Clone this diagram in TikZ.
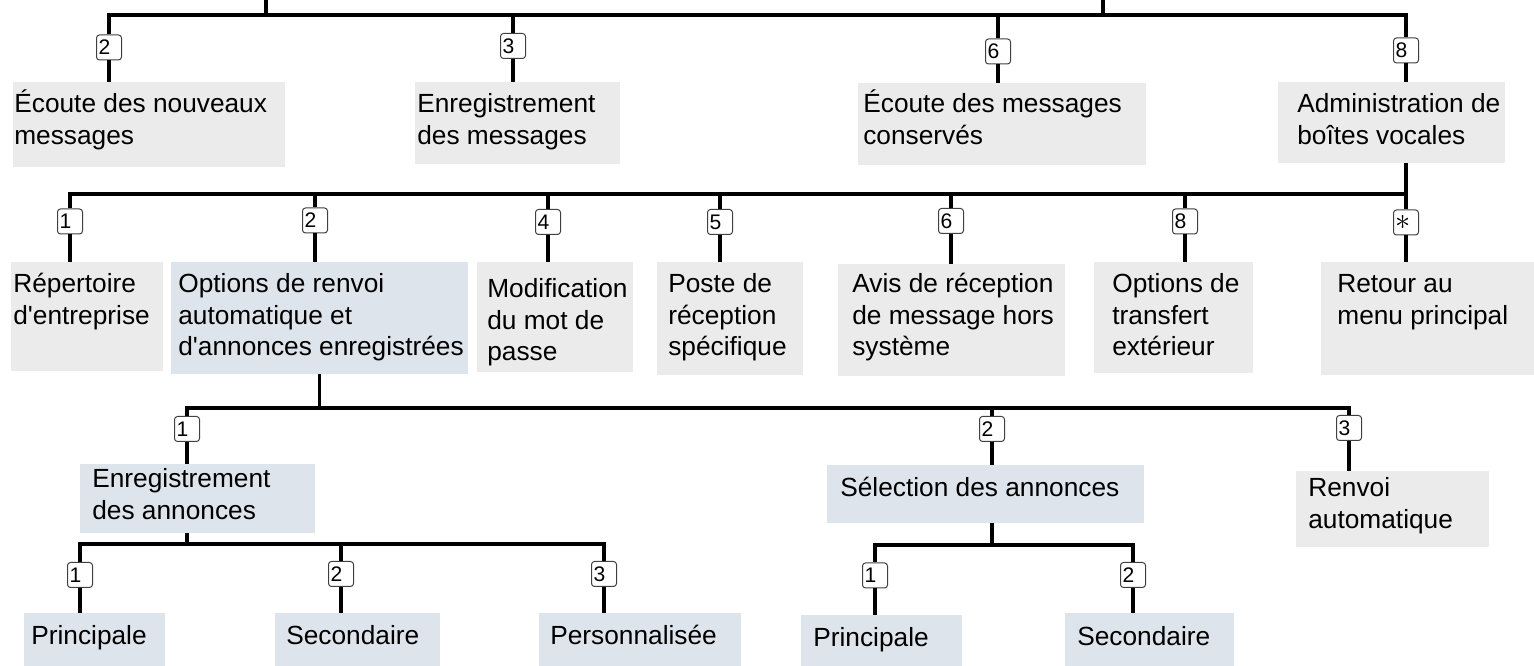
\documentclass[tikz,border=0pt]{standalone}
\usepackage{fontspec}
\setmainfont{Liberation Sans}
\definecolor{menugray}{RGB}{235,235,235}
\definecolor{menublue}{RGB}{222,228,235}
\newcommand{\menufont}{\fontsize{14.95pt}{17.93pt}\selectfont}
\newcommand{\keyfont}{\fontsize{12pt}{12pt}\selectfont}
\begin{document}
\begin{tikzpicture}[
    wire/.style={line width=0.065cm},
    keycap/.style={draw=black!75, line width=0.02cm, fill=white, rounded corners=0.06cm,
      minimum width=0.5cm, minimum height=0.5cm, inner xsep=0.04cm, inner ysep=0pt,
      text width=0.42cm, align=left, font=\keyfont},
    graybox/.style={fill=menugray, inner sep=0pt},
    bluebox/.style={fill=menublue, inner sep=0pt},
    lbl/.style={anchor=base west, inner sep=0pt, align=left, font=\menufont}
  ]
  \useasboundingbox (0,0) rectangle (30.68,13.32);

  % Drawing top level
  \coordinate (in1) at (5.32,13.32);
  \coordinate (in2) at (22.06,13.32);
  \coordinate (bar1) at (0,13.02);
  \node[graybox, minimum width=5.44cm, minimum height=1.70cm] (b1) at (2.98,10.83) {};
  \node[graybox, minimum width=4.10cm, minimum height=1.64cm] (b2) at (10.35,10.86) {};
  \node[graybox, minimum width=5.76cm, minimum height=1.64cm] (b3) at (20.04,10.84) {};
  \node[graybox, minimum width=4.54cm, minimum height=1.62cm] (b4) at (27.83,10.87) {};
  \node[lbl] (b1t) at (0.28,10.43) {Écoute des nouveaux\\messages};
  \node[lbl] (b2t) at (8.34,10.43) {Enregistrement\\des messages};
  \node[lbl] (b3t) at (17.26,10.43) {Écoute des messages\\conservés};
  \node[lbl] (b4t) at (25.94,10.43) {Administration de\\boîtes vocales};
  \node[keycap] (k2) at (2.18,12.37) {2};
  \node[keycap] (k3) at (10.26,12.40) {3};
  \node[keycap] (k6) at (19.96,12.29) {6};
  \node[keycap] (k8) at (28.12,12.31) {8};
  \draw[wire] (in1) -- (in1 |- bar1);
  \draw[wire] (in2) -- (in2 |- bar1);
  \draw[wire] (k2.north) |- (k8.north |- bar1) -- (k8.north);
  \foreach \k in {k3,k6}
    \draw[wire] (\k.north) -- (\k.north |- bar1);
  \foreach \k/\b in {k2/b1,k3/b2,k6/b3,k8/b4}
    \draw[wire] (\k.south) -- (\k.south |- \b.north);

  % Drawing mailbox administration level
  \coordinate (bar2) at (0,9.44);
  \node[graybox, minimum width=3.04cm, minimum height=2.18cm] (c1) at (1.74,6.99) {};
  \node[bluebox, minimum width=5.94cm, minimum height=2.24cm] (c2) at (6.39,6.96) {};
  \node[graybox, minimum width=3.12cm, minimum height=2.20cm] (c4) at (11.10,6.98) {};
  \node[graybox, minimum width=2.92cm, minimum height=2.26cm] (c5) at (14.60,6.95) {};
  \node[graybox, minimum width=4.54cm, minimum height=2.24cm] (c6) at (19.03,6.92) {};
  \node[graybox, minimum width=3.18cm, minimum height=2.22cm] (c8) at (23.47,6.97) {};
  \node[graybox, minimum width=4.26cm, minimum height=2.26cm] (cst) at (28.55,6.95) {};
  \node[lbl] (c1t) at (0.26,6.83) {Répertoire\\d\textquotesingle{}entreprise};
  \node[lbl] (c2t) at (3.56,6.20) {Options de renvoi\\automatique et\\d\textquotesingle{}annonces enregistrées};
  \node[lbl] (c4t) at (9.74,6.10) {Modification\\du mot de\\passe};
  \node[lbl] (c5t) at (13.36,6.20) {Poste de\\réception\\spécifique};
  \node[lbl] (c6t) at (17.04,6.20) {Avis de réception\\de message hors\\système};
  \node[lbl] (c8t) at (22.24,6.20) {Options de\\transfert\\extérieur};
  \node[lbl] (cstt) at (26.74,6.83) {Retour au\\menu principal};
  \node[keycap] (l1) at (1.40,8.89) {1};
  \node[keycap] (l2) at (6.30,8.91) {2};
  \node[keycap] (l4) at (10.96,8.88) {4};
  \node[keycap] (l5) at (14.40,8.88) {5};
  \node[keycap] (l6) at (19.02,8.90) {6};
  \node[keycap] (l8) at (23.70,8.89) {8};
  \node[keycap] (lst) at (28.12,8.87) {\fontsize{17pt}{17pt}\selectfont$\ast$};
  \draw[wire] (k8.south |- b4.south) -- (lst.north);
  \draw[wire] (l1.north) |- (lst.north |- bar2);
  \foreach \k in {l2,l4,l5,l6,l8}
    \draw[wire] (\k.north) -- (\k.north |- bar2);
  \foreach \k/\b in {l1/c1,l2/c2,l4/c4,l5/c5,l6/c6,l8/c8,lst/cst}
    \draw[wire] (\k.south) -- (\k.south |- \b.north);

  % Drawing forwarding and greetings level
  \coordinate (bar3) at (0,5.16);
  \node[bluebox, minimum width=4.70cm, minimum height=1.38cm] (d1) at (3.95,3.35) {};
  \node[bluebox, minimum width=6.34cm, minimum height=1.16cm] (d2) at (19.71,3.44) {};
  \node[graybox, minimum width=3.86cm, minimum height=1.52cm] (d3) at (27.85,3.14) {};
  \node[lbl] (d1t) at (1.84,2.93) {Enregistrement\\des annonces};
  \node[lbl] (d2t) at (16.80,3.38) {Sélection des annonces};
  \node[lbl] (d3t) at (26.16,2.75) {Renvoi\\automatique};
  \node[keycap] (m1) at (3.74,4.74) {1};
  \node[keycap] (m2) at (19.84,4.74) {2};
  \node[keycap] (m3) at (26.98,4.76) {3};
  \draw[wire] (c2.south) -- (c2.south |- bar3);
  \draw[wire] (m1.north) |- (m3.north |- bar3) -- (m3.north);
  \draw[wire] (m2.north) -- (m2.north |- bar3);
  \foreach \k/\b in {m1/d1,m2/d2,m3/d3}
    \draw[wire] (\k.south) -- (\k.south |- \b.north);

  % Drawing greeting recording level
  \coordinate (bar4) at (0,2.44);
  \node[bluebox, minimum width=2.82cm, minimum height=1.06cm] (e1) at (1.89,0.53) {};
  \node[bluebox, minimum width=3.30cm, minimum height=1.06cm] (e2) at (7.15,0.53) {};
  \node[bluebox, minimum width=4.04cm, minimum height=1.06cm] (e3) at (12.80,0.53) {};
  \node[lbl] (e1t) at (0.62,0.42) {Principale};
  \node[lbl] (e2t) at (5.72,0.42) {Secondaire};
  \node[lbl] (e3t) at (11.00,0.42) {Personnalisée};
  \node[keycap] (n1) at (1.60,1.82) {1};
  \node[keycap] (n2) at (6.82,1.84) {2};
  \node[keycap] (n3) at (12.08,1.84) {3};
  \draw[wire] (m1.south |- d1.south) -- (m1.south |- bar4);
  \draw[wire] (n1.north) |- (n3.north |- bar4) -- (n3.north);
  \draw[wire] (n2.north) -- (n2.north |- bar4);
  \foreach \k/\b in {n1/e1,n2/e2,n3/e3}
    \draw[wire] (\k.south) -- (\k.south |- \b.north);

  % Drawing greeting selection level
  \coordinate (bar5) at (0,2.42);
  \node[bluebox, minimum width=3.22cm, minimum height=1.02cm] (f1) at (17.63,0.51) {};
  \node[bluebox, minimum width=3.38cm, minimum height=1.06cm] (f2) at (22.99,0.53) {};
  \node[lbl] (f1t) at (16.26,0.38) {Principale};
  \node[lbl] (f2t) at (21.54,0.40) {Secondaire};
  \node[keycap] (p1) at (17.50,1.81) {1};
  \node[keycap] (p2) at (22.66,1.82) {2};
  \draw[wire] (m2.south |- d2.south) -- (m2.south |- bar5);
  \draw[wire] (p1.north) |- (p2.north |- bar5) -- (p2.north);
  \foreach \k/\b in {p1/f1,p2/f2}
    \draw[wire] (\k.south) -- (\k.south |- \b.north);
\end{tikzpicture}
\end{document}
